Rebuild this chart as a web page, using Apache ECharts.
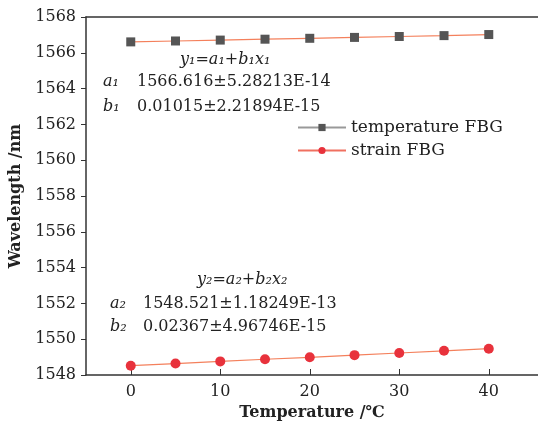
<!DOCTYPE html>
<html><head><meta charset="utf-8">
<script src="https://cdn.jsdelivr.net/npm/echarts@6/dist/echarts.min.js"></script>
<style>html,body{margin:0;padding:0;background:#fff}#c{width:538px;height:432px}</style>
</head><body><div id="c"></div>
<script>
var temperatures = [0, 5, 10, 15, 20, 25, 30, 35, 40];
var tempFBG = [1566.61, 1566.66, 1566.71, 1566.76, 1566.81, 1566.86, 1566.91, 1566.96, 1567.02];
var strainFBG = [1548.52, 1548.64, 1548.76, 1548.88, 1548.99, 1549.11, 1549.23, 1549.35, 1549.47];
var xTickLabels = [0, 10, 20, 30, 40];
var yMin = 1548, yMax = 1568, yStep = 2;

var F = 'DejaVu Serif';
var chart = echarts.init(document.getElementById('c'));
function pairs(ys){ return temperatures.map(function(x,i){return [x, ys[i]];}); }
var C = '#222';
function txt(left, top, text, italic, align){
  var o = {type:'text', top:top, style:{text:text, fontFamily:F, fontSize:16, fill:C,
    fontStyle: italic ? 'italic' : 'normal'}};
  o.left = left;
  return o;
}
chart.setOption({
  animation:false,
  backgroundColor:'#fff',
  grid:{left:85, right:-5, top:17, bottom:57},
  xAxis:[{
    type:'value', min:-5, max:45.5,
    name:'Temperature /\u2103', nameLocation:'middle', nameGap:30,
    nameTextStyle:{fontFamily:F, fontSize:16, color:C, fontWeight:'bold'},
    axisLine:{onZero:false, lineStyle:{color:'#333', width:1.5}},
    axisTick:{inside:true, length:6, customValues:xTickLabels, lineStyle:{color:'#333'}},
    axisLabel:{customValues:xTickLabels, fontFamily:F, fontSize:16, color:C, margin:9},
    splitLine:{show:false}
  },{
    type:'value', position:'top', min:-5, max:45.5,
    axisLine:{show:true, onZero:false, lineStyle:{color:'#333', width:1.5}},
    axisTick:{show:false}, axisLabel:{show:false}, splitLine:{show:false}
  }],
  yAxis:{
    type:'value', min:yMin, max:yMax, interval:yStep,
    name:'Wavelength /nm', nameLocation:'middle', nameGap:62,
    nameTextStyle:{fontFamily:F, fontSize:16, color:C, fontWeight:'bold'},
    axisLine:{show:true, onZero:false, lineStyle:{color:'#333', width:1.5}},
    axisTick:{show:true, length:5, lineStyle:{color:'#333'}},
    axisLabel:{fontFamily:F, fontSize:16, color:C, margin:10, formatter:function(v){return String(v);}},
    splitLine:{show:false}
  },
  legend:{
    left:292, top:114, orient:'vertical', itemWidth:48, itemHeight:9, itemGap:6,
    textStyle:{fontFamily:F, fontSize:17, color:C},
    data:[
      {name:'temperature FBG', itemStyle:{color:'#555'}, lineStyle:{color:'#999'}},
      {name:'strain FBG', itemStyle:{color:'#e8323c'}, lineStyle:{color:'#f07060'}}
    ]
  },
  series:[
    {name:'temperature FBG', type:'line', data:pairs(tempFBG), symbol:'rect', symbolSize:9,
     itemStyle:{color:'#555'}, lineStyle:{color:'#f4805c', width:1.2}},
    {name:'strain FBG', type:'line', data:pairs(strainFBG), symbol:'circle', symbolSize:10,
     itemStyle:{color:'#e8323c'}, lineStyle:{color:'#f4805c', width:1.2}}
  ],
  graphic:[
    txt(180, 52, 'y\u2081=a\u2081+b\u2081x\u2081', true),
    txt(103, 74, 'a\u2081', true),
    txt(137, 74, '1566.616\u00b15.28213E-14', false),
    txt(103, 99, 'b\u2081', true),
    txt(137, 99, '0.01015\u00b12.21894E-15', false),
    txt(197, 272, 'y\u2082=a\u2082+b\u2082x\u2082', true),
    txt(110, 296, 'a\u2082', true),
    txt(143, 296, '1548.521\u00b11.18249E-13', false),
    txt(110, 319, 'b\u2082', true),
    txt(143, 319, '0.02367\u00b14.96746E-15', false)
  ]
});
</script></body></html>
